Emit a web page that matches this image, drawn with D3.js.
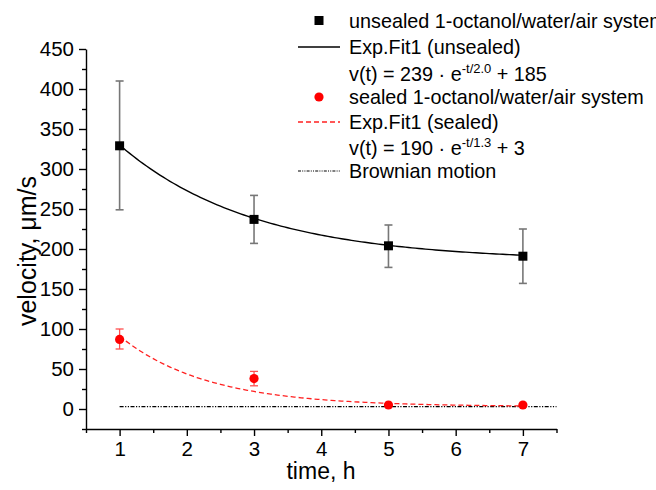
<!DOCTYPE html>
<html>
<head>
<meta charset="utf-8">
<script src="https://cdn.jsdelivr.net/npm/d3@7/dist/d3.min.js"></script>
<style>
  html, body { margin: 0; padding: 0; background: #fff; }
  svg { display: block; font-family: "Liberation Sans", Arial, sans-serif; }
</style>
</head>
<body>
<svg id="chart" width="656" height="490"></svg>
<script>
// ---- data ----
const times = [1, 3, 5, 7];
const unsealedV = [329, 237, 204, 191];
const unsealedLo = [249, 207, 177, 157];
const unsealedHi = [410, 267, 230, 225];
const sealedV = [87, 38, 5, 5];
const sealedLo = [75, 29, 5, 5];
const sealedHi = [100, 47, 5, 5];
const fitUnsealed = [239, 2.0, 185];
const fitSealed = [190, 1.3, 3];
const brownianV = 3;
const brownianRange = [1, 7.5];
const xTicks = [1, 2, 3, 4, 5, 6, 7];
const yTicks = [0, 50, 100, 150, 200, 250, 300, 350, 400, 450];
const legendLabels = [
  "unsealed 1-octanol/water/air system",
  "Exp.Fit1 (unsealed)",
  "v(t) = 239 · e",
  "sealed 1-octanol/water/air system",
  "Exp.Fit1 (sealed)",
  "v(t) = 190 · e",
  "Brownian motion"
];

// ---- layout ----
const svg = d3.select("#chart");
const x = d3.scaleLinear().domain([0.5, 7.5]).range([86, 556.5]);
const y = d3.scaleLinear().domain([-25, 450]).range([429, 49]);

// fit curves
function fitPts(p) {
  const pts = [];
  const n = 120;
  for (let i = 0; i <= n; i++) {
    const t = 1 + (6 * i) / n;
    pts.push([t, p[0] * Math.exp(-t / p[1]) + p[2]]);
  }
  return pts;
}
const line = d3.line().x(d => x(d[0])).y(d => y(d[1]));

// Brownian line
svg.append("line")
  .attr("x1", x(brownianRange[0])).attr("x2", x(brownianRange[1]))
  .attr("y1", y(brownianV)).attr("y2", y(brownianV))
  .attr("stroke", "#000").attr("stroke-width", 1.2)
  .attr("stroke-dasharray", "4,1.5,1.2,1.5,1.2,1.5");

svg.append("path").datum(fitPts(fitSealed)).attr("d", line)
  .attr("fill", "none").attr("stroke", "#ff2020").attr("stroke-width", 1.3)
  .attr("stroke-dasharray", "5,3");

svg.append("path").datum(fitPts(fitUnsealed)).attr("d", line)
  .attr("fill", "none").attr("stroke", "#000").attr("stroke-width", 1.4);

// error bars
function errBars(lo, hi, color, w) {
  const g = svg.append("g").attr("stroke", color).attr("stroke-width", w);
  times.forEach((t, i) => {
    if (hi[i] === lo[i]) return;
    g.append("line").attr("x1", x(t)).attr("x2", x(t)).attr("y1", y(lo[i])).attr("y2", y(hi[i]));
    g.append("line").attr("x1", x(t) - 4).attr("x2", x(t) + 4).attr("y1", y(lo[i])).attr("y2", y(lo[i]));
    g.append("line").attr("x1", x(t) - 4).attr("x2", x(t) + 4).attr("y1", y(hi[i])).attr("y2", y(hi[i]));
  });
}
errBars(unsealedLo, unsealedHi, "#777777", 1.6);
errBars(sealedLo, sealedHi, "#ff5050", 1.3);

// markers
svg.append("g").selectAll("rect").data(times).join("rect")
  .attr("x", (d) => x(d) - 4.5).attr("y", (d, i) => y(unsealedV[i]) - 4.5)
  .attr("width", 9).attr("height", 9).attr("fill", "#000");
svg.append("g").selectAll("circle").data(times).join("circle")
  .attr("cx", d => x(d)).attr("cy", (d, i) => y(sealedV[i]))
  .attr("r", 4.6).attr("fill", "#ff0000");

// axes
const xMinor = d3.range(0.5, 7.51, 0.5).filter(v => !xTicks.includes(v));
const yMinor = d3.range(-25, 451, 25).filter(v => !yTicks.includes(v));

const gx = svg.append("g").attr("transform", "translate(0,429)");
gx.call(d3.axisBottom(x).tickValues(xMinor).tickSize(4).tickFormat(""));
gx.call(g => g.select(".domain").remove());
const gx2 = svg.append("g").attr("transform", "translate(0,429)");
gx2.call(d3.axisBottom(x).tickValues(xTicks).tickSize(7).tickPadding(5).tickSizeOuter(0).tickFormat(d3.format("d")));
gx2.selectAll("text").attr("font-size", 20.5).attr("font-family", "Liberation Sans, Arial, sans-serif").attr("fill", "#000");

const gy = svg.append("g").attr("transform", "translate(86,0)");
gy.call(d3.axisLeft(y).tickValues(yMinor).tickSize(4).tickFormat(""));
gy.call(g => g.select(".domain").remove());
const gy2 = svg.append("g").attr("transform", "translate(86,0)");
gy2.call(d3.axisLeft(y).tickValues(yTicks).tickSize(7).tickPadding(5).tickSizeOuter(0).tickFormat(d3.format("d")));
gy2.selectAll("text").attr("font-size", 20.5).attr("font-family", "Liberation Sans, Arial, sans-serif").attr("fill", "#000");

svg.selectAll(".domain, .tick line").attr("stroke", "#000").attr("stroke-width", 1.4);

// axis titles
svg.append("text").attr("x", 321).attr("y", 479).attr("text-anchor", "middle")
  .attr("font-size", 23).text("time, h");
svg.append("text").attr("transform", "translate(36,251) rotate(-90)")
  .attr("text-anchor", "middle").attr("font-size", 25).text("velocity, μm/s");

// legend
const lg = svg.append("g").attr("font-size", 19.8);
const tx = 349;
const baselines = [28, 54, 81, 104, 129, 155, 178];
lg.append("rect").attr("x", 314.5).attr("y", baselines[0] - 12).attr("width", 9).attr("height", 9).attr("fill", "#000");
lg.append("line").attr("x1", 298).attr("x2", 340).attr("y1", baselines[1] - 7).attr("y2", baselines[1] - 7)
  .attr("stroke", "#000").attr("stroke-width", 1.3);
lg.append("circle").attr("cx", 319).attr("cy", baselines[3] - 7).attr("r", 4.6).attr("fill", "#ff0000");
lg.append("line").attr("x1", 298).attr("x2", 340).attr("y1", baselines[4] - 7).attr("y2", baselines[4] - 7)
  .attr("stroke", "#ff2020").attr("stroke-width", 1.3).attr("stroke-dasharray", "5,3");
lg.append("line").attr("x1", 298).attr("x2", 340).attr("y1", baselines[6] - 7).attr("y2", baselines[6] - 7)
  .attr("stroke", "#000").attr("stroke-width", 1.1).attr("stroke-dasharray", "3,1.2,1,1.2,1,1.2");

legendLabels.forEach((s, i) => {
  const t = lg.append("text").attr("x", tx).attr("y", baselines[i]);
  if (i === 2 || i === 5) {
    const p = i === 2 ? fitUnsealed : fitSealed;
    t.append("tspan").text(s);
    t.append("tspan").attr("font-size", 13).attr("dy", -8).text("-t/" + p[1].toFixed(1));
    t.append("tspan").attr("dy", 8).text(" + " + p[2]);
  } else {
    t.text(s);
  }
});
</script>
</body>
</html>
